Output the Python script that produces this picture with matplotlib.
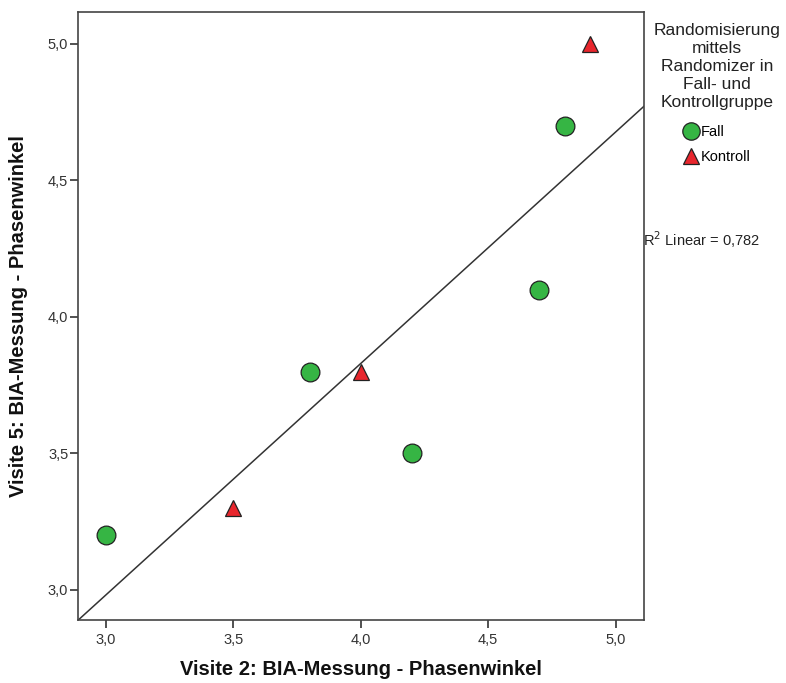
import numpy as np
import matplotlib
matplotlib.use("Agg")
import matplotlib.pyplot as plt
from matplotlib.lines import Line2D

plt.rcParams['font.family'] = ['Liberation Sans', 'DejaVu Sans']

# data
fall_x = [3.0, 3.8, 4.2, 4.7, 4.8]
fall_y = [3.2, 3.8, 3.5, 4.1, 4.7]
kontroll_x = [3.5, 4.0, 4.9]
kontroll_y = [3.3, 3.8, 5.0]

x_ticks = [3.0, 3.5, 4.0, 4.5, 5.0]
x_ticklabels = ["3,0", "3,5", "4,0", "4,5", "5,0"]
y_ticks = [3.0, 3.5, 4.0, 4.5, 5.0]
y_ticklabels = ["3,0", "3,5", "4,0", "4,5", "5,0"]

green = "#36b544"
red = "#e8262d"

fig = plt.figure(figsize=(7.86, 6.83), dpi=100)
ax = fig.add_axes([78/786, 63/683, (644-78)/786, (620-12)/683])

xlim = (2.891, 5.111)
ylim = (2.89, 5.117)

# linear fit over all points
all_x = np.array(fall_x + kontroll_x)
all_y = np.array(fall_y + kontroll_y)
b, a = np.polyfit(all_x, all_y, 1)
r2 = np.corrcoef(all_x, all_y)[0, 1]**2
lx = np.array(xlim)
ax.plot(lx, a + b*lx, color="#333333", lw=1.1, zorder=1)

ax.plot(fall_x, fall_y, "o", ms=13.5, mfc=green, mec="#222222", mew=0.9, zorder=3)
ax.plot(kontroll_x, kontroll_y, "^", ms=12, mfc=red, mec="#222222", mew=0.9, zorder=3)

ax.set_xlim(xlim)
ax.set_ylim(ylim)
ax.set_xticks(x_ticks)
ax.set_xticklabels(x_ticklabels)
ax.set_yticks(y_ticks)
ax.set_yticklabels(y_ticklabels)
ax.tick_params(direction="out", length=6, width=1.2, labelsize=10.5,
               color="#333333", labelcolor="#333333")
ax.tick_params(axis="x", pad=3)
ax.tick_params(axis="y", pad=1)
for s in ax.spines.values():
    s.set_color("#444444")
    s.set_linewidth(1.2)

ax.set_xlabel("Visite 2: BIA-Messung - Phasenwinkel", fontsize=14.5, fontweight="bold",
              labelpad=10, color="#111111")
ax.set_ylabel("Visite 5: BIA-Messung - Phasenwinkel", fontsize=14.5, fontweight="bold",
              labelpad=14, color="#111111")

fig.text(717/786, 1 - 23/683, "Randomisierung\nmittels\nRandomizer in\nFall- und\nKontrollgruppe",
         fontsize=12.5, ha="center", va="top", multialignment="center",
         linespacing=1.25, color="#222222")

handles = [
    Line2D([], [], ls="none", marker="o", ms=12.5, mfc=green, mec="#222222", mew=0.9),
    Line2D([], [], ls="none", marker="^", ms=11, mfc=red, mec="#222222", mew=0.9),
]
leg = fig.legend(handles, ["Fall", "Kontroll"],
                 loc="upper left", bbox_to_anchor=(679/786, 1 - 125/683),
                 frameon=False, fontsize=10.5,
                 handletextpad=-0.1, labelspacing=0.75, handlelength=1.6,
                 borderaxespad=0, borderpad=0)

fig.text(643/786, 1 - 240/683, "R$^2$ Linear = " + f"{r2:.3f}".replace(".", ","),
         fontsize=10.5, ha="left", va="center", color="#222222")

fig.savefig("out.png", dpi=100)
